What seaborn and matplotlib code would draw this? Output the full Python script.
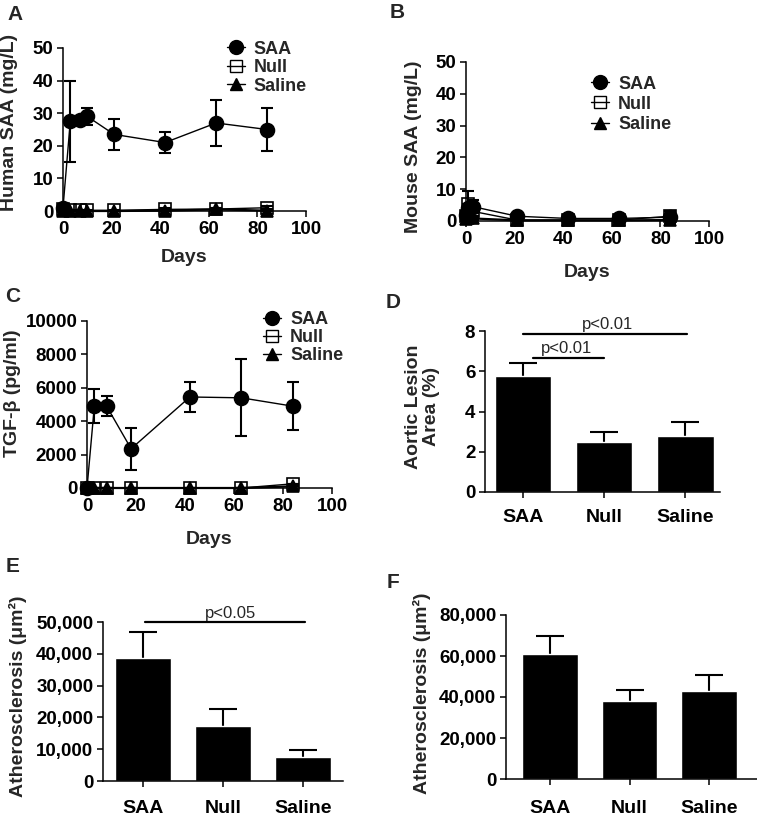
import numpy as np
import pandas as pd
import matplotlib
matplotlib.use("Agg")
import matplotlib.pyplot as plt
import seaborn as sns
from matplotlib.lines import Line2D
from matplotlib.ticker import FuncFormatter

# ---- data ----
groups = ["SAA", "Null", "Saline"]

# A: human SAA (mg/L)
days_a = [0, 3, 7, 10, 21, 42, 63, 84]
saa_a = [1, 27.5, 28, 29, 23.5, 21, 27, 25]
saa_a_err = [0.5, 12.5, 1, 2.5, 4.7, 3.3, 7, 6.5]
null_a = [0.5, 0.2, 0.2, 0.2, 0.2, 0.5, 0.6, 1.0]
null_a_err = [0.3, 0.2, 0.2, 0.2, 0.2, 0.3, 0.4, 0.5]
saline_a = [0, 0, 0, 0, 0, 0.1, 0.5, 0.1]
saline_a_err = [0, 0, 0, 0, 0, 0.1, 0.3, 0.1]

# B: mouse SAA (mg/L)
days_b = [0, 1, 3, 21, 42, 63, 84]
saa_b = [2, 4, 4.5, 1.5, 0.8, 0.8, 1.2]
saa_b_err = [1, 1.5, 2, 0.8, 0.3, 0.3, 2]
null_b = [1.5, 5.5, 3, 0.3, 0.3, 0.3, 1.5]
null_b_err = [0.5, 4, 1.5, 0.2, 0.2, 0.2, 1.5]
saline_b = [0.5, 1, 0.8, 0.2, 0.2, 0.2, 0.3]
saline_b_err = [0.3, 0.5, 0.4, 0.1, 0.1, 0.1, 0.2]

# C: TGF-beta (pg/ml)
days_c = [0, 3, 8, 18, 42, 63, 84]
saa_c = [0, 4900, 4900, 2350, 5450, 5400, 4900]
saa_c_err = [0, 1000, 600, 1250, 900, 2300, 1450]
null_c = [0, 0, 0, 0, 0, 0, 250]
null_c_err = [0, 0, 0, 0, 0, 0, 0]
saline_c = [0, 0, 0, 0, 0, 0, 100]
saline_c_err = [0, 0, 0, 0, 0, 0, 0]

# D: aortic lesion area (%)
lesion_d = [5.75, 2.5, 2.78]
lesion_d_err = [0.68, 0.5, 0.7]

# E, F: atherosclerosis (um^2)
ath_e = [38800, 17400, 7400]
ath_e_err = [8100, 5200, 2300]
ath_f = [60900, 38100, 43100]
ath_f_err = [9000, 5200, 7800]

sns.set_style("ticks")
plt.rcParams["font.family"] = ["Liberation Sans", "DejaVu Sans"]
plt.rcParams["font.weight"] = "bold"
plt.rcParams["axes.labelweight"] = "bold"
plt.rcParams["axes.linewidth"] = 1.1
plt.rcParams["xtick.major.width"] = 1.1
plt.rcParams["ytick.major.width"] = 1.1
plt.rcParams["xtick.major.size"] = 4
plt.rcParams["ytick.major.size"] = 4
plt.rcParams["xtick.color"] = "black"
plt.rcParams["ytick.color"] = "black"
plt.rcParams["axes.edgecolor"] = "black"

TICK_FS = 13.5
LABEL_FS = 14

fig = plt.figure(figsize=(7.57, 8.16), dpi=100)
W, H = 757, 816


def px_axes(x0, y0, x1, y1):
    return fig.add_axes([x0 / W, 1 - y1 / H, (x1 - x0) / W, (y1 - y0) / H])


ax_a = px_axes(63, 48, 306, 211)
ax_b = px_axes(466, 62, 709, 221)
ax_c = px_axes(87, 321, 332, 488)
ax_d = px_axes(485, 331, 720, 492)
ax_e = px_axes(103, 622, 343, 781)
ax_f = px_axes(506, 615, 757, 779)


def time_panel(ax, days, series, ymax, ystep, labelpad):
    styles = [("o", "black", 10, 1.0, 3),
              ("s", "none", 8.5, 1.0, 4),
              ("^", "black", 8.5, 1.6, 5)]
    for (vals, errs), (mk, face, ms, lw, z) in zip(series, styles):
        df = pd.DataFrame({"day": days, "value": vals})
        ax.errorbar(days, vals, yerr=errs, fmt="none", ecolor="black",
                    elinewidth=1.5, capsize=4.5, capthick=1.5,
                    clip_on=False, zorder=z - 0.5)
        sns.lineplot(data=df, x="day", y="value", ax=ax, color="black",
                     lw=lw, marker=mk, markersize=ms, markerfacecolor=face,
                     markeredgecolor="black", markeredgewidth=1.2,
                     clip_on=False, zorder=z)
    ax.set_xlim(0, 100)
    ax.set_ylim(0, ymax)
    ax.set_xticks(np.arange(0, 101, 20))
    ax.set_yticks(np.arange(0, ymax + 1, ystep))
    ax.tick_params(labelsize=TICK_FS, pad=3)
    ax.set_xlabel("Days", fontsize=LABEL_FS, labelpad=labelpad)
    sns.despine(ax=ax)


def legend(ax, x, y, spacing):
    handles = [
        Line2D([], [], color="black", lw=1.0, marker="o", ms=10, mfc="black", mec="black"),
        Line2D([], [], color="black", lw=1.0, marker="s", ms=9, mfc="none", mec="black"),
        Line2D([], [], color="black", lw=1.0, marker="^", ms=9, mfc="black", mec="black"),
    ]
    ax.legend(handles, groups, loc="upper left", bbox_to_anchor=(x, y),
              frameon=False, fontsize=13, handlelength=1.0,
              handletextpad=0.5, labelspacing=spacing, borderpad=0,
              borderaxespad=0)


def bar_panel(ax, vals, errs, ymax, ystep, fmt=None, pad=8):
    df = pd.DataFrame({"group": groups, "value": vals})
    sns.barplot(data=df, x="group", y="value", ax=ax, color="black",
                saturation=1, width=0.7, errorbar=None, zorder=2)
    tops = np.array(vals) + np.array(errs)
    # upper-only error bars: stem hidden behind the bar, cap only on top
    ax.errorbar(range(3), vals, yerr=[np.zeros(3), errs], fmt="none",
                ecolor="black", elinewidth=1.5, capsize=0, zorder=1)
    ax.plot(range(3), tops, ls="none", marker="_", ms=20, mew=1.5,
            color="black", zorder=1)
    ax.set_ylim(0, ymax)
    ax.set_yticks(np.arange(0, ymax + 1, ystep))
    ax.set_xlabel("")
    ax.tick_params(axis="y", labelsize=TICK_FS, pad=3)
    ax.tick_params(axis="x", labelsize=LABEL_FS, pad=pad)
    if fmt:
        ax.yaxis.set_major_formatter(FuncFormatter(fmt))
    sns.despine(ax=ax)


# A
time_panel(ax_a, days_a, [(saa_a, saa_a_err), (null_a, null_a_err),
                          (saline_a, saline_a_err)], 50, 10, 8)
ax_a.set_ylabel("Human SAA (mg/L)", fontsize=LABEL_FS)
ax_a.yaxis.set_label_coords(-0.185, 0.546)
legend(ax_a, 0.673, 1.045, 0.08)

# B
time_panel(ax_b, days_b, [(saa_b, saa_b_err), (null_b, null_b_err),
                          (saline_b, saline_b_err)], 50, 10, 12)
ax_b.set_ylabel("Mouse SAA (mg/L)", fontsize=LABEL_FS)
ax_b.yaxis.set_label_coords(-0.181, 0.465)
legend(ax_b, 0.514, 0.915, 0.18)

# C
time_panel(ax_c, days_c, [(saa_c, saa_c_err), (null_c, null_c_err),
                          (saline_c, saline_c_err)], 10000, 2000, 12)
ax_c.set_ylabel("TGF-β (pg/ml)", fontsize=LABEL_FS)
ax_c.yaxis.set_label_coords(-0.27, 0.57)
legend(ax_c, 0.718, 1.06, 0.06)

# D
bar_panel(ax_d, lesion_d, lesion_d_err, 8, 2)
ax_d.set_xlim(-0.47, 2.43)
ax_d.set_ylabel("Aortic Lesion\nArea (%)", fontsize=LABEL_FS, linespacing=1.1)
ax_d.yaxis.set_label_coords(-0.19, 0.53)
ax_d.plot([0.12, 1.0], [6.65, 6.65], color="black", lw=1.6)
ax_d.text(0.54, 6.75, "p<0.01", ha="center", va="bottom", fontsize=12,
          fontweight="normal")
ax_d.plot([0.0, 2.02], [7.85, 7.85], color="black", lw=1.6, clip_on=False)
ax_d.text(1.04, 7.95, "p<0.01", ha="center", va="bottom", fontsize=12,
          fontweight="normal", clip_on=False)

# E
comma = lambda v, p: f"{int(v):,}"
bar_panel(ax_e, ath_e, ath_e_err, 50000, 10000, comma, pad=10)
ax_e.set_xlim(-0.5, 2.5)
ax_e.set_ylabel("Atherosclerosis (μm²)", fontsize=LABEL_FS)
ax_e.yaxis.set_label_coords(-0.317, 0.53)
ax_e.plot([0.02, 2.02], [49900, 49900], color="black", lw=1.6, clip_on=False)
ax_e.text(1.09, 50400, "p<0.05", ha="center", va="bottom", fontsize=12,
          fontweight="normal", clip_on=False)

# F
bar_panel(ax_f, ath_f, ath_f_err, 80000, 20000, comma, pad=11)
ax_f.set_xlim(-0.55, 2.6)
ax_f.set_ylabel("Atherosclerosis (μm²)", fontsize=LABEL_FS)
ax_f.yaxis.set_label_coords(-0.30, 0.52)

# panel letters
for letter, x, y in [("A", 15, 15), ("B", 397, 13), ("C", 13, 297),
                     ("D", 393, 303), ("E", 13, 566), ("F", 393, 582)]:
    fig.text(x / W, 1 - y / H, letter, fontsize=15, fontweight="bold",
             ha="center", va="center")

fig.savefig("out.png", dpi=100)
